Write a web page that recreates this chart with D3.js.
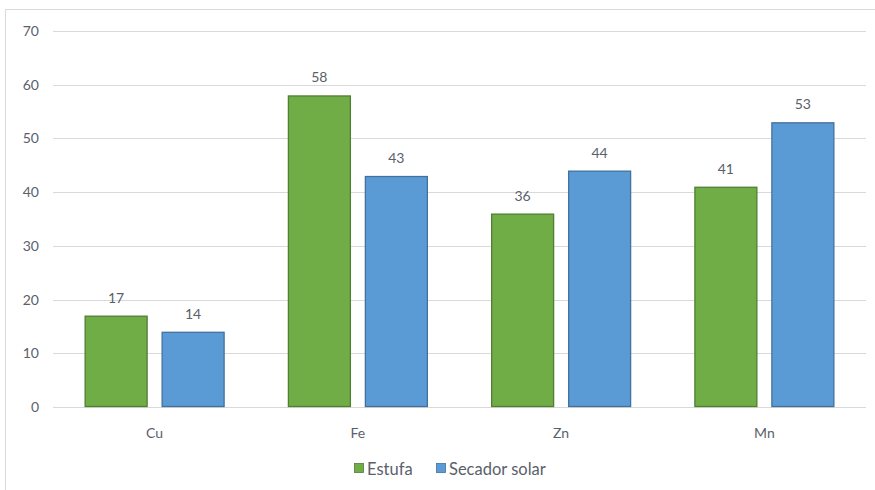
<!DOCTYPE html>
<html><head><meta charset="utf-8">
<script src="https://cdn.jsdelivr.net/npm/d3@7"></script>
<style>body{margin:0;background:#fff}svg{display:block}text{font-family:Lato,"Open Sans",sans-serif;fill:#5a5f6a}</style>
</head><body>
<script>
const categories = ["Cu","Fe","Zn","Mn"];
const seriesNames = ["Estufa","Secador solar"];
const estufa = [17,58,36,41];
const secador = [14,43,44,53];
const yTicks = [0,10,20,30,40,50,60,70];
const colors = ["#70AD47","#5B9BD5"];
const strokes = ["#507E32","#41719C"];

const W=875,H=490;
const svg=d3.select("body").append("svg").attr("width",W).attr("height",H);
svg.append("rect").attr("x",5.5).attr("y",9.5).attr("width",W+10).attr("height",H+10)
  .attr("fill","#fff").attr("stroke","#d9d9d9");

const pL=53,pR=866,pT=31,pB=407;
const x=d3.scaleBand().domain(categories).range([pL,pR]).paddingInner(0).paddingOuter(0);
const x1=d3.scaleBand().domain(seriesNames).range([0,x.bandwidth()]).paddingInner(0.182).paddingOuter(0.411);
const y=d3.scaleLinear().domain([0,70]).range([pB,pT]);

const g=svg.append("g");
g.selectAll("line.grid").data(yTicks).join("line").attr("class","grid")
  .attr("x1",pL).attr("x2",pR).attr("y1",d=>Math.round(y(d))+0.5).attr("y2",d=>Math.round(y(d))+0.5)
  .attr("stroke","#d9d9d9").attr("stroke-width",1);

const yAxis=d3.axisLeft(y).tickValues(yTicks).tickSize(0).tickPadding(14);
const ya=svg.append("g").attr("transform",`translate(${pL},0)`).call(yAxis);
ya.select(".domain").remove();
ya.selectAll("text").style("font-size","14px").attr("fill","#5a5f6a");

const data=[estufa,secador];
data.forEach((vals,si)=>{
  const sg=svg.append("g");
  sg.selectAll("rect").data(vals).join("rect")
    .attr("x",(d,i)=>x(categories[i])+x1(seriesNames[si])+0.5)
    .attr("y",d=>y(d)+0.5)
    .attr("width",x1.bandwidth()-1)
    .attr("height",d=>y(0)-y(d)-1)
    .attr("fill",colors[si]).attr("stroke",strokes[si]).attr("stroke-width",1.3);
  sg.selectAll("text").data(vals).join("text")
    .attr("x",(d,i)=>x(categories[i])+x1(seriesNames[si])+x1.bandwidth()/2)
    .attr("y",d=>y(d)-13)
    .attr("text-anchor","middle").style("font-size","14px").text(d=>d);
});

const xAxis=d3.axisBottom(x).tickSize(0).tickPadding(21);
const xa=svg.append("g").attr("transform",`translate(0,${pB})`).call(xAxis);
xa.select(".domain").remove();
xa.selectAll("text").style("font-size","14px").attr("fill","#5a5f6a");

const legendX=[354,436];
const lg=svg.append("g");
seriesNames.forEach((n,i)=>{
  lg.append("rect").attr("x",legendX[i]+0.5).attr("y",463.5).attr("width",9).attr("height",9)
    .attr("fill",colors[i]).attr("stroke",strokes[i]).attr("stroke-width",0.8);
  lg.append("text").attr("x",legendX[i]+13).attr("y",474.5).style("font-size","16.5px").text(n);
});
</script>
</body></html>
